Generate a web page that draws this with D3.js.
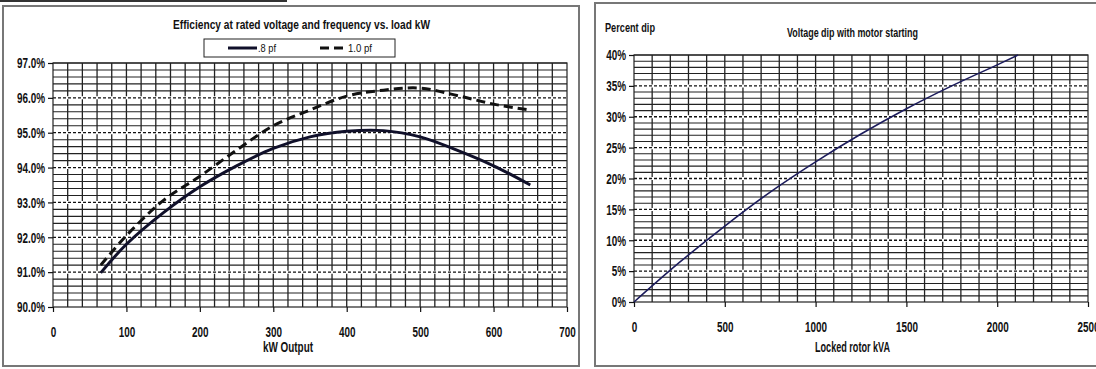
<!DOCTYPE html>
<html>
<head>
<meta charset="utf-8">
<script src="https://cdn.jsdelivr.net/npm/d3@7"></script>
<style>
  body { margin: 0; background: #fff; }
  svg text { font-family: "Liberation Sans", Arial, sans-serif; font-weight: bold; fill: #111; }
</style>
</head>
<body>
<svg id="chart" width="1096" height="369"></svg>
<script>
// efficiency chart data
var kw = [65, 100, 150, 200, 250, 300, 350, 400, 450, 500, 550, 600, 650];
var eff08 = [90.98, 91.8, 92.7, 93.45, 94.05, 94.55, 94.88, 95.04, 95.06, 94.88, 94.5, 94.05, 93.5];
var eff10 = [91.2, 92.05, 93.05, 93.75, 94.5, 95.2, 95.65, 96.05, 96.22, 96.28, 96.07, 95.82, 95.65];
var effTicksY = [90, 91, 92, 93, 94, 95, 96, 97];
var effTicksX = [0, 100, 200, 300, 400, 500, 600, 700];

// voltage dip data
var kva = [0, 250, 500, 750, 1000, 1250, 1500, 1750, 2000, 2115];
var dip = [0, 6.4, 12.3, 17.8, 22.7, 27.2, 31.3, 35, 38.4, 40];
var dipTicksY = [0, 5, 10, 15, 20, 25, 30, 35, 40];
var dipTicksX = [0, 500, 1000, 1500, 2000, 2500];

var svg = d3.select("#chart");

// panel frames
svg.append("line").attr("x1", 0).attr("x2", 287).attr("y1", 1).attr("y2", 1)
    .attr("stroke", "#333").attr("stroke-width", 2);
svg.append("rect").attr("x", 3).attr("y", 6).attr("width", 576).attr("height", 360)
    .attr("fill", "none").attr("stroke", "#777").attr("stroke-width", 2);
svg.append("rect").attr("x", 595).attr("y", 3).attr("width", 510).attr("height", 363)
    .attr("fill", "none").attr("stroke", "#777").attr("stroke-width", 2);

function grid(g, x, y, xMinor, yMinor, yMajor) {
    g.append("g").selectAll("line").data(yMinor).join("line")
        .attr("x1", x.range()[0]).attr("x2", x.range()[1])
        .attr("y1", d => y(d)).attr("y2", d => y(d))
        .attr("stroke", "#222").attr("stroke-width", 1.1);
    g.append("g").selectAll("line").data(xMinor).join("line")
        .attr("y1", y.range()[0]).attr("y2", y.range()[1])
        .attr("x1", d => x(d)).attr("x2", d => x(d))
        .attr("stroke", "#222").attr("stroke-width", 1.3);
    // dashed major lines drawn on white so they read as broken lines
    g.append("g").selectAll("line").data(yMajor).join("line")
        .attr("x1", x.range()[0]).attr("x2", x.range()[1])
        .attr("y1", d => y(d)).attr("y2", d => y(d))
        .attr("stroke", "#fff").attr("stroke-width", 3);
    g.append("g").selectAll("line").data(yMajor).join("line")
        .attr("x1", x.range()[0]).attr("x2", x.range()[1])
        .attr("y1", d => y(d)).attr("y2", d => y(d))
        .attr("stroke", "#111").attr("stroke-width", 1.3).attr("stroke-dasharray", "3,2");
    g.append("rect")
        .attr("x", x.range()[0]).attr("y", y.range()[1])
        .attr("width", x.range()[1] - x.range()[0]).attr("height", y.range()[0] - y.range()[1])
        .attr("fill", "none").attr("stroke", "#222").attr("stroke-width", 1.2);
}

// squeeze tick labels horizontally, like the narrow bold face of the original
function squeeze(sel, k) {
    sel.each(function () {
        var w = this.getComputedTextLength();
        d3.select(this).attr("textLength", w * k).attr("lengthAdjust", "spacingAndGlyphs");
    });
}

function axes(g, x, y, xTicks, yTicks, yFmt) {
    var ya = g.append("g").attr("transform", `translate(${x.range()[0]},0)`)
        .call(d3.axisLeft(y).tickValues(yTicks).tickFormat(yFmt).tickSize(5).tickPadding(3));
    var xa = g.append("g").attr("transform", `translate(0,${y.range()[0]})`)
        .call(d3.axisBottom(x).tickValues(xTicks).tickFormat(d3.format("d")).tickSize(5).tickPadding(14));
    [ya, xa].forEach(a => {
        a.select(".domain").remove();
        a.selectAll("line").attr("stroke", "#111").attr("stroke-width", 1.2);
        a.selectAll("text").style("font-size", "15px").call(squeeze, 0.66);
    });
}

// text squeezed to the width it takes in the reference
function label(g, x, y, w, size, txt, weight) {
    return g.append("text").attr("x", x).attr("y", y)
        .attr("textLength", w).attr("lengthAdjust", "spacingAndGlyphs")
        .style("font-size", size + "px").style("font-weight", weight || "bold").text(txt);
}

// ---- left: efficiency ----
var x1 = d3.scaleLinear().domain([0, 700]).range([53, 567]);
var y1 = d3.scaleLinear().domain([90, 97]).range([307, 63]);
var left = svg.append("g");
grid(left, x1, y1, d3.range(20, 700, 20), d3.range(90.2, 97.01, 0.2).filter(v => Math.abs(v - Math.round(v)) > 0.05 || v > 96.9), effTicksY.slice(1, -1));
axes(left, x1, y1, effTicksX, effTicksY, d => d.toFixed(1) + "%");

var line1 = d3.line().x((d, i) => x1(kw[i])).y(d => y1(d)).curve(d3.curveCatmullRom.alpha(0.5));
left.append("path").datum(eff08).attr("d", line1)
    .attr("fill", "none").attr("stroke", "#10102a").attr("stroke-width", 3);
left.append("path").datum(eff10).attr("d", line1)
    .attr("fill", "none").attr("stroke", "#111").attr("stroke-width", 3).attr("stroke-dasharray", "9,5");

label(left, 173, 29, 257, 12, "Efficiency at rated voltage and frequency vs. load kW");
label(left, 263, 352, 50, 14, "kW Output");

var lg = left.append("g");
lg.append("rect").attr("x", 204).attr("y", 39).attr("width", 191).attr("height", 18)
    .attr("fill", "#fff").attr("stroke", "#222").attr("stroke-width", 1);
lg.append("line").attr("x1", 228).attr("x2", 257).attr("y1", 48).attr("y2", 48)
    .attr("stroke", "#10102a").attr("stroke-width", 3);
label(lg, 258, 52, 18, 11, ".8 pf", "normal");
lg.append("line").attr("x1", 320).attr("x2", 347).attr("y1", 48).attr("y2", 48)
    .attr("stroke", "#111").attr("stroke-width", 3).attr("stroke-dasharray", "9,5");
label(lg, 348, 52, 24, 11, "1.0 pf", "normal");

// ---- right: voltage dip ----
var x2 = d3.scaleLinear().domain([0, 2500]).range([634, 1088]);
var y2 = d3.scaleLinear().domain([0, 40]).range([302, 55]);
var right = svg.append("g");
grid(right, x2, y2, d3.range(100, 2500, 100), d3.range(1, 41, 1).filter(v => v % 5 !== 0 || v === 40), dipTicksY.slice(1, -1));
axes(right, x2, y2, dipTicksX, dipTicksY, d => d + "%");

var line2 = d3.line().x((d, i) => x2(kva[i])).y(d => y2(d)).curve(d3.curveCatmullRom.alpha(0.5));
right.append("path").datum(dip).attr("d", line2)
    .attr("fill", "none").attr("stroke", "#1c1c5c").attr("stroke-width", 1.6);

label(right, 605, 32, 50, 13, "Percent dip");
label(right, 787, 37, 131, 12, "Voltage dip with motor starting");
label(right, 815, 352, 75, 14, "Locked rotor kVA");
</script>
</body>
</html>
